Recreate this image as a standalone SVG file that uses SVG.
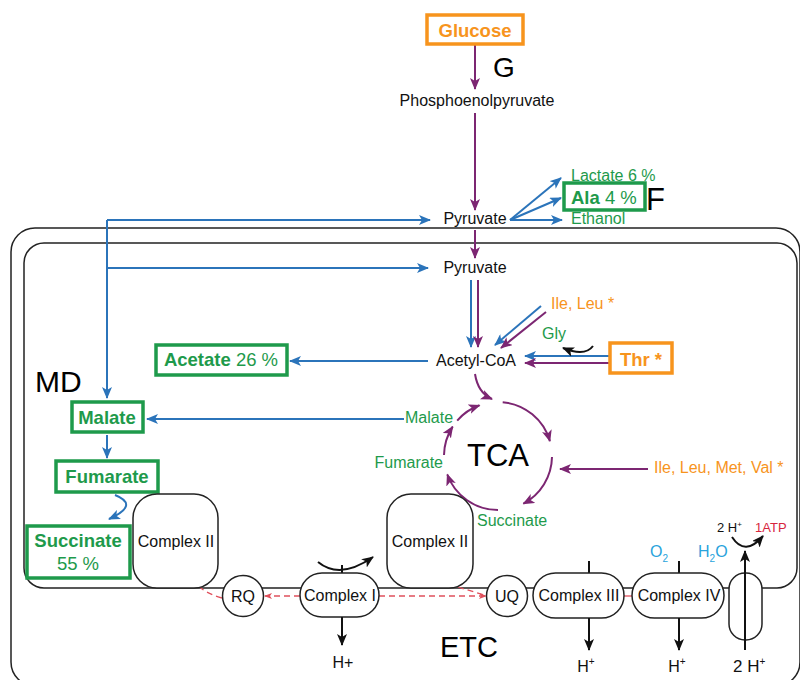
<svg xmlns="http://www.w3.org/2000/svg" width="800" height="680" viewBox="0 0 800 680">
<style>
text{font-family:"Liberation Sans",Arial,sans-serif;}
.t{font-size:16px;fill:#111;}
.g{font-size:16px;fill:#1e9a4b;}
.o{font-size:16px;fill:#f7941d;}
.big{fill:#000;}
.bx{font-size:18.5px;font-weight:bold;}
.gb{fill:none;stroke:#1e9a4b;stroke-width:3.5;}
.ob{fill:none;stroke:#f7941d;stroke-width:3.5;}
.mem{fill:none;stroke:#222;stroke-width:1.5;}
.cx{fill:#fff;stroke:#222;stroke-width:1.5;}
.pu{fill:none;stroke:#7c2672;stroke-width:2;}
.bl{fill:none;stroke:#2b74ba;stroke-width:2;}
.bk{fill:none;stroke:#111;stroke-width:2;}
.rd{fill:none;stroke:#e0505c;stroke-width:1.3;stroke-dasharray:6 4;}
</style>
<defs>
<marker id="ap" viewBox="0 0 12 10" refX="11" refY="5" markerWidth="12" markerHeight="10" markerUnits="userSpaceOnUse" orient="auto"><path d="M0,0 L12,5 L0,10 L3,5 z" fill="#7c2672"/></marker>
<marker id="ab" viewBox="0 0 12 10" refX="11" refY="5" markerWidth="12" markerHeight="10" markerUnits="userSpaceOnUse" orient="auto"><path d="M0,0 L12,5 L0,10 L3,5 z" fill="#2b74ba"/></marker>
<marker id="ak" viewBox="0 0 12 10" refX="11" refY="5" markerWidth="12" markerHeight="10" markerUnits="userSpaceOnUse" orient="auto"><path d="M0,0 L12,5 L0,10 L3,5 z" fill="#111"/></marker>
<marker id="ar" viewBox="0 0 8 6" refX="7" refY="3" markerWidth="8" markerHeight="6" markerUnits="userSpaceOnUse" orient="auto"><path d="M0,0 L8,3 L0,6 L2,3 z" fill="#e0505c"/></marker>
</defs>

<g id="membranes">
<rect class="mem" x="11" y="228" width="789" height="458" rx="24"/>
<path class="mem" d="M24,263 A20,20 0 0 1 44,243 L777,243 A20,20 0 0 1 797,263 L797,568 A20,20 0 0 1 777,588 L44,588 A20,20 0 0 1 24,568 Z"/>
<line x1="624" y1="596" x2="632" y2="596" stroke="#e0505c" stroke-width="1.3"/>
</g>

<g id="connectors">
<line class="pu" x1="475" y1="44" x2="475" y2="89" marker-end="url(#ap)"/>
<line class="pu" x1="475" y1="113" x2="475" y2="210" marker-end="url(#ap)"/>
<line class="pu" x1="475" y1="230" x2="475" y2="258" marker-end="url(#ap)"/>
<line class="bl" x1="510" y1="220" x2="561" y2="178" marker-end="url(#ab)"/>
<line class="bl" x1="510" y1="220" x2="561" y2="198" marker-end="url(#ab)"/>
<line class="bl" x1="510" y1="220" x2="562" y2="220" marker-end="url(#ab)"/>
<line class="bl" x1="107" y1="220" x2="430" y2="220" marker-end="url(#ab)"/>
<line class="bl" x1="107" y1="220" x2="107" y2="398" marker-end="url(#ab)"/>
<line class="bl" x1="107" y1="268" x2="428" y2="268" marker-end="url(#ab)"/>
<line class="bl" x1="471" y1="280" x2="471" y2="347" marker-end="url(#ab)"/>
<line class="pu" x1="478" y1="280" x2="478" y2="347" marker-end="url(#ap)"/>
<line class="bl" x1="541" y1="306" x2="495" y2="345" marker-end="url(#ab)"/>
<line class="pu" x1="546" y1="312" x2="501" y2="348" marker-end="url(#ap)"/>
<line class="bl" x1="610" y1="356" x2="525" y2="356" marker-end="url(#ab)"/>
<line class="pu" x1="610" y1="363" x2="525" y2="363" marker-end="url(#ap)"/>
<path class="bk" d="M593,346 Q585,357 563,348" stroke-width="1.5" marker-end="url(#ak)"/>
<line class="bl" x1="428" y1="361" x2="290" y2="361" marker-end="url(#ab)"/>
<line class="bl" x1="404" y1="419" x2="147" y2="419" marker-end="url(#ab)"/>
<line class="bl" x1="107" y1="435" x2="107" y2="458" marker-end="url(#ab)"/>
<path class="bl" d="M115,495 Q140,505 109,519" stroke-width="1.5" marker-end="url(#ab)"/>
<path class="pu" d="M475,374 Q478,393 492,399" marker-end="url(#ap)"/>
<path class="pu" d="M502.7,402.2 A54,54 0 0 1 549.9,441.1" marker-end="url(#ap)"/>
<path class="pu" d="M552,457 A54,54 0 0 1 523.4,503.7" marker-end="url(#ap)"/>
<path class="pu" d="M498,510 A54,54 0 0 1 447.3,474.5" marker-end="url(#ap)"/>
<path class="pu" d="M444,455.1 A54,54 0 0 1 452.7,426.6" marker-end="url(#ap)"/>
<path class="pu" d="M457.2,420.6 A54,54 0 0 1 479.5,405.3" marker-end="url(#ap)"/>
<line class="pu" x1="648" y1="469" x2="560" y2="469" marker-end="url(#ap)"/>
<line class="rd" x1="300" y1="596" x2="265" y2="596" marker-end="url(#ar)"/>
<path class="rd" d="M222,598 Q192,590 188,566" marker-end="url(#ar)"/>
<line class="rd" x1="379" y1="596" x2="486" y2="596" marker-end="url(#ar)"/>
<line class="rd" x1="458" y1="587" x2="484" y2="595"/>
</g>

<g id="glucose"><rect class="ob" x="427" y="15" width="96" height="29"/><text class="bx" x="475" y="37" text-anchor="middle" fill="#f7941d">Glucose</text></g>
<g id="label-G"><text class="big" x="493" y="77" font-size="28">G</text></g>
<g id="pep"><text class="t" x="477" y="106" text-anchor="middle">Phosphoenolpyruvate</text></g>
<g id="pyruvate1"><text class="t" x="475" y="224" text-anchor="middle">Pyruvate</text></g>
<g id="lactate"><text class="g" x="571" y="181">Lactate 6 %</text></g>
<g id="ala"><rect class="gb" x="564" y="183" width="81" height="27"/><text x="571" y="204" font-size="18.5px" fill="#1e9a4b"><tspan font-weight="bold">Ala</tspan> 4 %</text></g>
<g id="label-F"><text class="big" x="646" y="210" font-size="31">F</text></g>
<g id="ethanol"><text class="g" x="571" y="224">Ethanol</text></g>
<g id="pyruvate2"><text class="t" x="475" y="273" text-anchor="middle">Pyruvate</text></g>
<g id="ileleu"><text class="o" x="551" y="309">Ile, Leu *</text></g>
<g id="gly"><text class="g" x="542" y="339">Gly</text></g>
<g id="thr"><rect class="ob" x="610" y="343" width="62" height="30"/><text class="bx" x="641" y="366" text-anchor="middle" fill="#f7941d">Thr *</text></g>
<g id="acetylcoa"><text class="t" x="476" y="366" text-anchor="middle">Acetyl-CoA</text></g>
<g id="acetate"><rect class="gb" x="156" y="345" width="131" height="30"/><text x="221" y="366" text-anchor="middle" font-size="18.5px" fill="#1e9a4b"><tspan font-weight="bold">Acetate</tspan> 26 %</text></g>
<g id="label-MD"><text class="big" x="35" y="392" font-size="30">MD</text></g>
<g id="malate-box"><rect class="gb" x="72" y="402" width="71" height="30"/><text class="bx" x="107" y="424" text-anchor="middle" fill="#1e9a4b">Malate</text></g>
<g id="fumarate-box"><rect class="gb" x="56" y="461" width="102" height="31"/><text class="bx" x="107" y="483" text-anchor="middle" fill="#1e9a4b">Fumarate</text></g>
<g id="succinate-box"><rect class="gb" x="27" y="526" width="103" height="52"/><text class="bx" x="78" y="547" text-anchor="middle" fill="#1e9a4b">Succinate</text><text x="78" y="570" text-anchor="middle" font-size="18.5px" fill="#1e9a4b">55 %</text></g>
<g id="tca"><text class="big" x="498" y="466" text-anchor="middle" font-size="31">TCA</text></g>
<g id="tca-malate"><text class="g" x="405" y="423">Malate</text></g>
<g id="tca-fumarate"><text class="g" x="443" y="468" text-anchor="end">Fumarate</text></g>
<g id="tca-succinate"><text class="g" x="477" y="526">Succinate</text></g>
<g id="bcaa"><text class="o" x="654" y="473">Ile, Leu, Met, Val *</text></g>

<g id="complex2-left"><rect class="cx" x="133" y="494" width="85" height="94" rx="24"/><text class="t" x="176" y="547" text-anchor="middle">Complex II</text></g>
<g id="complex2-right"><rect class="cx" x="387" y="494" width="86" height="94" rx="24"/><text class="t" x="430" y="547" text-anchor="middle">Complex II</text></g>
<g id="rq"><circle class="cx" cx="243" cy="596" r="20.5"/><text class="t" x="243" y="602" text-anchor="middle">RQ</text></g>
<g id="complex1">
<line class="bk" x1="342" y1="565" x2="342" y2="573" stroke-width="1.8"/>
<path class="bk" d="M318,562 Q340,580 373,557" stroke-width="1.5" marker-end="url(#ak)"/>
<rect class="cx" x="300" y="573" width="79" height="44" rx="22"/>
<text class="t" x="340" y="601" text-anchor="middle">Complex I</text>
<line class="bk" x1="342" y1="617" x2="342" y2="645" stroke-width="1.8" marker-end="url(#ak)"/>
<text class="t" x="343" y="668" text-anchor="middle" font-size="17">H+</text>
</g>
<g id="uq"><circle class="cx" cx="507" cy="596" r="20.5"/><text class="t" x="507" y="602" text-anchor="middle">UQ</text></g>
<g id="complex3">
<line class="bk" x1="589" y1="561" x2="589" y2="573" stroke-width="1.8"/>
<rect class="cx" x="533" y="573" width="91" height="45" rx="22.5"/>
<text class="t" x="579" y="601" text-anchor="middle">Complex III</text>
<line class="bk" x1="589" y1="618" x2="589" y2="650" stroke-width="1.8" marker-end="url(#ak)"/>
<text class="t" x="586" y="672" text-anchor="middle" font-size="17">H<tspan font-size="10" dy="-7">+</tspan></text>
</g>
<g id="complex4">
<line class="bk" x1="679" y1="561" x2="679" y2="573" stroke-width="1.8"/>
<rect class="cx" x="632" y="573" width="92" height="45" rx="22.5"/>
<text class="t" x="679" y="601" text-anchor="middle">Complex IV</text>
<line class="bk" x1="679" y1="618" x2="679" y2="650" stroke-width="1.8" marker-end="url(#ak)"/>
<text class="t" x="677" y="672" text-anchor="middle" font-size="17">H<tspan font-size="10" dy="-7">+</tspan></text>
<text x="650" y="557" font-size="16" fill="#29a3dc">O<tspan font-size="10" dy="5">2</tspan></text>
<text x="698" y="557" font-size="16" fill="#29a3dc">H<tspan font-size="10" dy="5">2</tspan><tspan dy="-5">O</tspan></text>
</g>
<g id="atp-synthase">
<rect class="cx" x="729" y="573" width="33" height="67" rx="16"/>
<line class="bk" x1="745" y1="650" x2="745" y2="551" stroke-width="1.8" marker-end="url(#ak)"/>
<path class="bk" d="M732,537 Q745,557 763,536" stroke-width="1.5" marker-end="url(#ak)"/>
<text x="717" y="532" font-size="13" fill="#111">2 H<tspan font-size="8" dy="-5">+</tspan></text>
<text x="755" y="532" font-size="13" fill="#d7263d">1ATP</text>
<text x="733" y="672" font-size="17" fill="#111">2 H<tspan font-size="10" dy="-7">+</tspan></text>
</g>
<g id="label-ETC"><text class="big" x="440" y="657" font-size="29">ETC</text></g>
</svg>
